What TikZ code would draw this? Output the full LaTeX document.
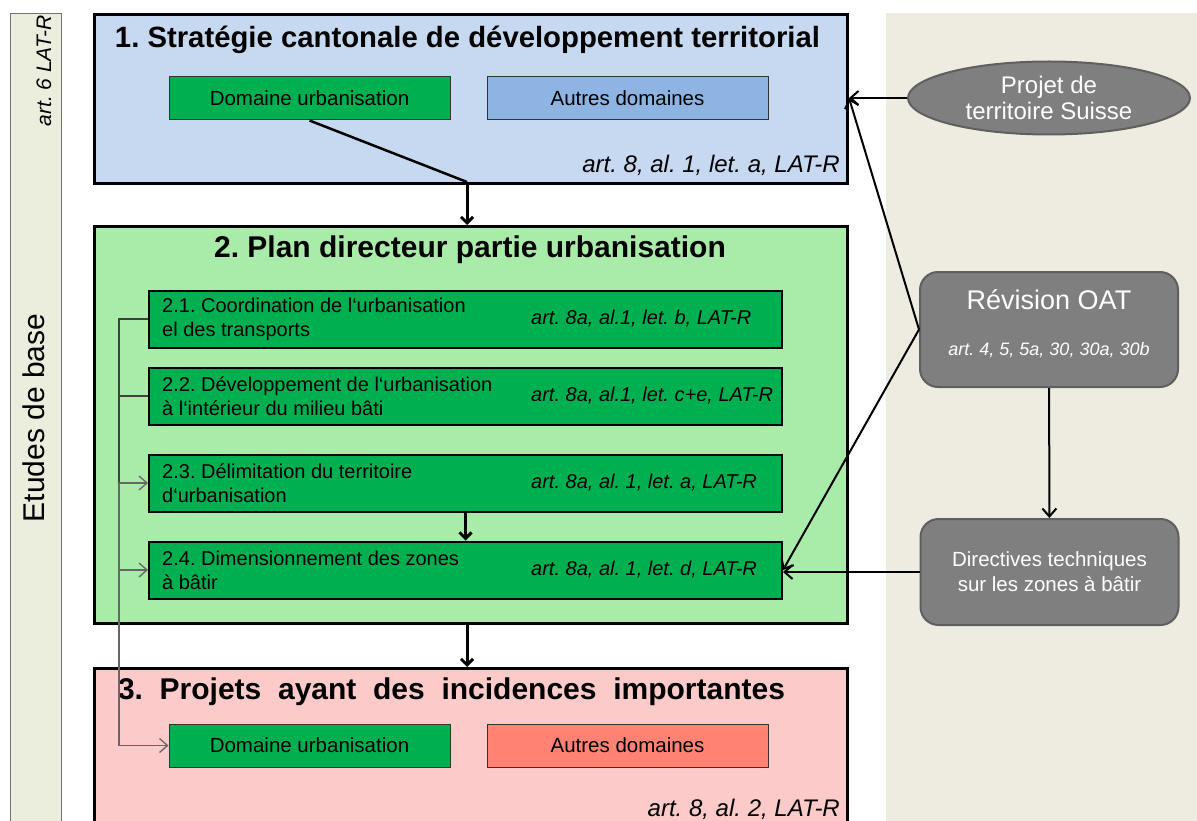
\documentclass[tikz,border=0pt]{standalone}
\usepackage{fontspec}
\setmainfont{Liberation Sans}
\usepackage{tikz}
\usetikzlibrary{arrows,arrows.meta,shapes,positioning}
\frenchspacing
\definecolor{stratblue}{HTML}{C6D9F1}
\definecolor{planvert}{HTML}{A9EBA9}
\definecolor{projrose}{HTML}{FDCACA}
\definecolor{urbvert}{HTML}{00B050}
\definecolor{autrebleu}{HTML}{8DB4E2}
\definecolor{autresaumon}{HTML}{FF8272}
\definecolor{gris}{HTML}{7F7F7F}
\definecolor{grisbord}{HTML}{5F5F5F}
\definecolor{panneau}{HTML}{EEEBE0}
\definecolor{bande}{HTML}{EBEEDD}
\tikzstyle{bigbox} = [rectangle, draw=black, line width=3pt, anchor=north west, minimum width=753]
\tikzstyle{titletext} = [font=\fontsize{29.3}{32}\selectfont\bfseries, inner sep=0pt]
\tikzstyle{domainbox} = [rectangle, draw=black!80, line width=1pt, minimum width=281, minimum height=43, font=\fontsize{20.5}{24}\selectfont, inner sep=0pt]
\tikzstyle{subbox} = [rectangle, draw=black, line width=2pt, fill=urbvert, minimum width=633, minimum height=57, inner sep=0pt]
\tikzstyle{subtext} = [font=\fontsize{20}{24}\selectfont, align=left, inner sep=0pt]
\tikzstyle{subref} = [font=\fontsize{20}{24}\selectfont\itshape, inner sep=0pt]
\tikzstyle{artref} = [font=\fontsize{24}{28}\selectfont\itshape, inner sep=0pt]
\tikzstyle{oatbox} = [rectangle, rounded corners=18pt, draw=grisbord, line width=2pt, fill=gris, text=white, minimum width=258, align=center]
\tikzstyle{mainarrow} = [line width=3pt, -{Straight Barb[length=6pt, width=12pt]}]
\tikzstyle{sidearrow} = [line width=2pt, -{Straight Barb[length=8pt, width=14pt]}]
\tikzstyle{busline} = [line width=1.3pt, draw=black!75]
\tikzstyle{busarrow} = [line width=1.3pt, draw=black!60, -{Straight Barb[length=8pt, width=14pt]}]

\begin{document}
\begin{tikzpicture}[x=1pt, y=-1pt, node distance=20pt]
\useasboundingbox (0,0) rectangle (1197,821);
\clip (0,0) rectangle (1197,821);
\fill[white] (0,0) rectangle (1197,821);
% bandes de fond
\draw[fill=bande, draw=black!55, line width=1pt] (10,14) rectangle (61,840);
\fill[panneau] (886,13) rectangle (1210,840);
\node (art6) [rotate=90, font=\fontsize{21}{24}\selectfont\itshape] at (44,71) {art. 6 LAT-R};
\node (etudes) [rotate=90, font=\fontsize{30}{34}\selectfont] at (34,418) {Etudes de base};

% 1. strategie
\node (strat) [bigbox, fill=stratblue, minimum height=169] at (93,13) {};
\node (strattitle) [titletext] at (467.5,40) {1. Stratégie cantonale de développement territorial};
\node (domurbA) [domainbox, fill=urbvert] at (309.5,98.5) {Domaine urbanisation};
\node (autresA) [domainbox, fill=autrebleu, right=36pt of domurbA] {Autres domaines};
\node (artA) [artref, anchor=base east] at (840,173) {art. 8, al. 1, let. a, LAT-R};

% 2. plan directeur
\node (plan) [bigbox, fill=planvert, minimum height=397] at (93,225) {};
\node (plantitle) [titletext, font=\fontsize{30}{32}\selectfont\bfseries] at (470,250) {2. Plan directeur partie urbanisation};
\node (coord) [subbox] at (465.5,319) {};
\node (dev) [subbox, below=18pt of coord] {};
\node (delim) [subbox, below=28pt of dev] {};
\node (dim) [subbox, below=28pt of delim] {};
\node (coordtxt) [subtext, right=14pt of coord.west] {2.1. Coordination de l‘urbanisation\\el des transports};
\node (coordref) [subref, right=383pt of coord.west] {art. 8a, al.1, let. b, LAT-R};
\node (devtxt) [subtext, right=14pt of dev.west] {2.2. Développement de l‘urbanisation\\à l‘intérieur du milieu bâti};
\node (devref) [subref, right=383pt of dev.west] {art. 8a, al.1, let. c+e, LAT-R};
\node (delimtxt) [subtext, right=14pt of delim.west] {2.3. Délimitation du territoire\\d‘urbanisation};
\node (delimref) [subref, right=383pt of delim.west] {art. 8a, al. 1, let. a, LAT-R};
\node (dimtxt) [subtext, right=14pt of dim.west] {2.4. Dimensionnement des zones\\à bâtir};
\node (dimref) [subref, right=383pt of dim.west] {art. 8a, al. 1, let. d, LAT-R};

% 3. projets
\node (projets) [bigbox, fill=projrose, minimum height=200] at (93,667) {};
\node (projtitle) [titletext, font=\fontsize{30}{32}\selectfont\bfseries] at (451.5,692) {\makebox[667pt][s]{3. Projets ayant des incidences importantes}};
\node (domurbC) [domainbox, fill=urbvert] at (309.5,745.5) {Domaine urbanisation};
\node (autresC) [domainbox, fill=autresaumon, right=36pt of domurbC] {Autres domaines};
\node (artC) [artref, anchor=base east] at (840,816) {art. 8, al. 2, LAT-R};

% colonne de droite
\node (pts) [ellipse, draw=grisbord, line width=2pt, fill=gris, text=white, minimum width=282, minimum height=73, align=center, font=\fontsize{24}{26}\selectfont, inner sep=0pt] at (1049,98) {Projet de\\territoire Suisse};
\node (rev) [oatbox, minimum height=115] at (1049,329.5) {};
\node (revtitle) [text=white, font=\fontsize{27}{30}\selectfont] at (1049,300) {Révision OAT};
\node (revref) [text=white, font=\fontsize{18}{21}\selectfont\itshape] at (1049,350) {art. 4, 5, 5a, 30, 30a, 30b};
\node (dir) [oatbox, minimum height=106, font=\fontsize{20.5}{25}\selectfont] at (1049.5,572) {Directives techniques\\sur les zones à bâtir};

% fleches
\coordinate (jonction) at (467,182);
\draw[line width=2.5pt] (domurbA.south) -- (jonction);
\draw[mainarrow] (jonction) -- (jonction |- plan.north);
\draw[mainarrow] (delim) -- (dim);
\draw[mainarrow] (plan.south -| jonction) -- (projets.north -| jonction);
\draw[sidearrow] (pts) -- (strat.east |- pts);
\draw[sidearrow] (rev.west) -- (strat.east |- pts);
\draw[sidearrow] (rev.west) -- (dim.east);
\draw[sidearrow] (rev) -- (dir);
\draw[sidearrow] (dir.west) -- (dir.west -| dim.east);

% liaison urbanisation
\coordinate (bus) at (119,319);
\draw[busline] (coord.west) -- (bus) -- (bus |- delim.west);
\draw[busline] (bus |- dev.west) -- (dev.west);
\draw[busarrow] (bus |- delim.west) |- (domurbC.west);
\draw[busarrow] (bus |- delim.west) -- (delim.west);
\draw[busarrow] (bus |- dim.west) -- (dim.west);
\end{tikzpicture}
\end{document}
